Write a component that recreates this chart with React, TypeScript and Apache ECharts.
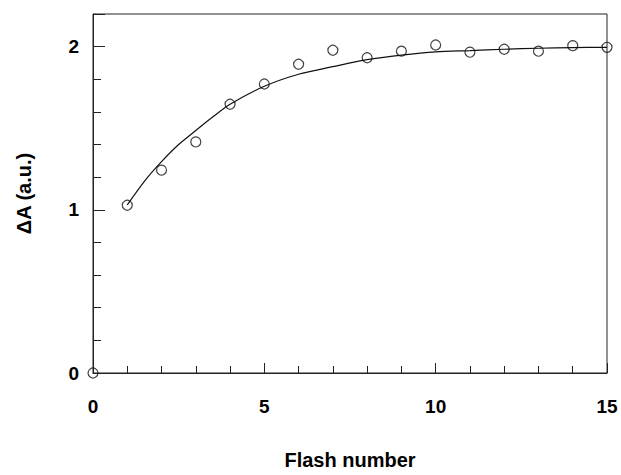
import React, { useEffect, useRef } from "react";
import * as echarts from "echarts";

const flashNumbers = [0, 1, 2, 3, 4, 5, 6, 7, 8, 9, 10, 11, 12, 13, 14, 15];
const deltaA = [0, 1.028, 1.243, 1.416, 1.647, 1.771, 1.892, 1.978, 1.932, 1.972, 2.01, 1.966, 1.984, 1.972, 2.006, 1.996];

const fitX = [1, 1.5, 2, 2.5, 3, 3.5, 4, 5, 6, 7, 8, 9, 10, 11, 12, 13, 14, 15];
const fitY = [1.03, 1.175, 1.295, 1.4, 1.486, 1.57, 1.647, 1.757, 1.831, 1.877, 1.92, 1.948, 1.968, 1.976, 1.984, 1.99, 1.994, 1.996];

const xTicks = [0, 5, 10, 15];
const yTicks = [0, 1, 2];

const FONT = "'Liberation Sans', Arial, sans-serif";

export default function App() {
  const ref = useRef<HTMLDivElement>(null);
  useEffect(() => {
    if (!ref.current) return;
    const chart = echarts.init(ref.current, null, { renderer: "svg" });
    chart.setOption({
      animation: false,
      backgroundColor: "#ffffff",
      grid: {
        left: 93,
        right: 14,
        top: 14,
        bottom: 95,
        show: true,
        borderColor: "#222",
        borderWidth: 1,
      },
      xAxis: {
        type: "value",
        min: 0,
        max: 15,
        interval: 5,
        name: "Flash number",
        nameLocation: "middle",
        nameGap: 77,
        nameTextStyle: { fontFamily: FONT, fontWeight: "bold", fontSize: 20, color: "#000" },
        axisLine: { show: true, lineStyle: { color: "#222", width: 1 } },
        axisTick: { show: true, inside: true, length: 10, lineStyle: { color: "#222" } },
        minorTick: { show: true, splitNumber: 5, length: 7, lineStyle: { color: "#222" } },
        splitLine: { show: false },
        axisLabel: {
          margin: 24,
          fontFamily: FONT,
          fontWeight: "bold",
          fontSize: 19,
          color: "#000",
          formatter: (v: number) => (xTicks.includes(v) ? String(v) : ""),
        },
      },
      yAxis: {
        type: "value",
        min: 0,
        max: 2.2,
        interval: 1,
        name: "ΔA (a.u.)",
        nameLocation: "middle",
        nameGap: 59,
        nameTextStyle: { fontFamily: FONT, fontWeight: "bold", fontSize: 20, color: "#000" },
        axisLine: { show: true, lineStyle: { color: "#222", width: 1 } },
        axisTick: { show: true, inside: true, length: 12, lineStyle: { color: "#222" } },
        minorTick: { show: true, splitNumber: 5, length: 8, lineStyle: { color: "#222" } },
        splitLine: { show: false },
        axisLabel: {
          margin: 14,
          fontFamily: FONT,
          fontWeight: "bold",
          fontSize: 19,
          color: "#000",
          showMaxLabel: false,
          formatter: (v: number) => (yTicks.includes(v) ? String(v) : ""),
        },
      },
      series: [
        {
          type: "line",
          data: fitX.map((x, i) => [x, fitY[i]]),
          smooth: 0.3,
          showSymbol: false,
          symbol: "none",
          lineStyle: { color: "#111", width: 1.2 },
          silent: true,
        },
        {
          type: "scatter",
          data: flashNumbers.map((x, i) => [x, deltaA[i]]),
          symbol: "circle",
          symbolSize: 10,
          clip: false,
          itemStyle: { color: "rgba(255,255,255,0)", borderColor: "#111", borderWidth: 1.2 },
        },
      ],
    });
    return () => chart.dispose();
  }, []);
  return (
    <div
      ref={ref}
      style={{ position: "absolute", left: 0, top: 0, width: 621, height: 475 }}
    />
  );
}
